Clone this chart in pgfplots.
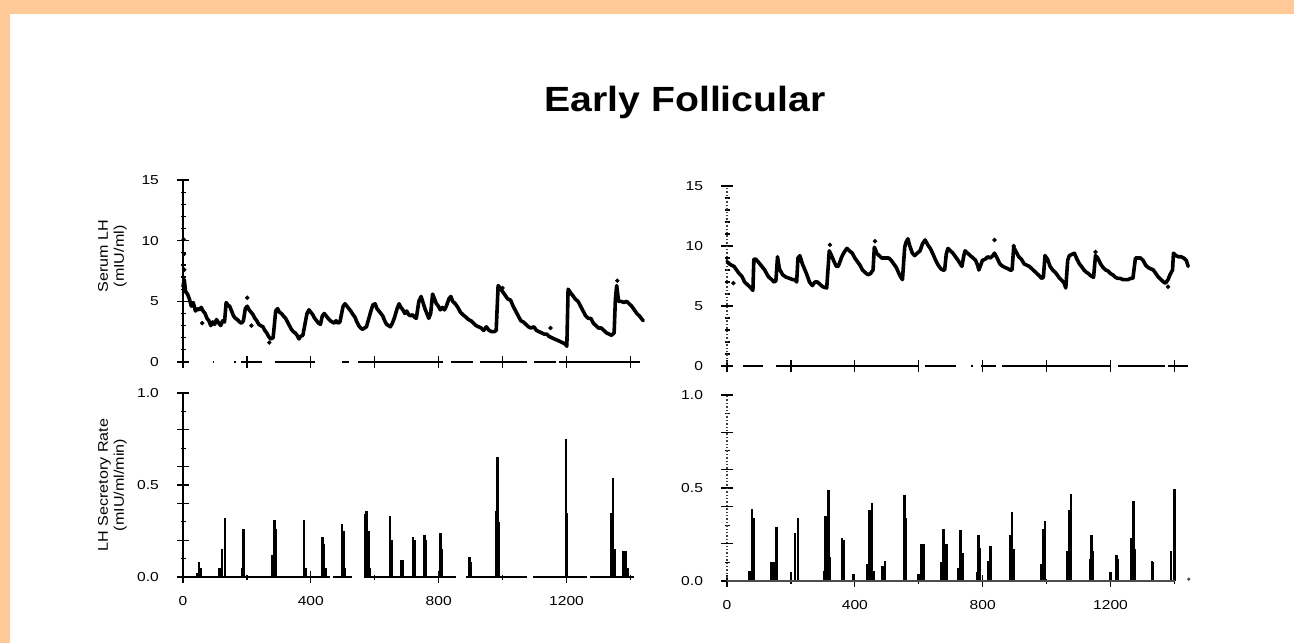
\documentclass[border=0pt]{standalone}
\usepackage{fontspec}
\setmainfont{Liberation Sans}
\usepackage{pgfplots}
\pgfplotsset{compat=1.18}
\definecolor{framecol}{RGB}{255,202,152}
\pgfplotsset{
  panel/.style={
    scale only axis, width=230.9pt,
    xmin=0, xmax=1445, ymin=0,
    enlargelimits=false, clip=false,
    axis x line*=bottom, axis y line*=left,
    x axis line style={draw=none},
    y axis line style={-, line width=0.6pt},
    tick align=center,
    major tick length=6pt, minor tick length=2.5pt,
    every tick/.append style={black, line width=0.6pt},
    /pgf/number format/assume math mode=true,
    /pgf/number format/set thousands separator={},
    ticklabel style={font=\fontsize{6.5}{7}\selectfont, xscale=1.2},
    yticklabel style={xshift=-4pt},
    xticklabel style={yshift=-3pt},
    every axis y label/.style={rotate=90, anchor=center, align=center,
      font=\fontsize{7}{8}\selectfont},
  },
  toppanel/.style={panel, ymax=15, ytick={0,5,10,15}, minor y tick num=4,
    xtick={0,200,...,1400}, xticklabels={}},
  botpanel/.style={panel, ymax=1, ytick={0,0.5,1}, yticklabels={0.0,0.5,1.0},
    extra y ticks={0.2,0.4,0.6,0.8}, extra y tick labels={},
    minor ytick={0.1,0.3,0.7,0.9},
    xtick={0,400,800,1200}, xticklabels={0,400,800,1200}, minor xtick={200,600,1000,1400}},
  serum/.style={black, line width=1.8pt, line join=round, line cap=round},
  base/.style={black, line width=0.6pt, unbounded coords=jump},
  pulse/.style={ycomb, black, line width=1.3pt},
}
\begin{document}
\begin{tikzpicture}
\useasboundingbox (0,0) rectangle (647pt,321.5pt);
\fill[framecol] (0,0) rectangle (647pt,321.5pt);
\fill[white] (5pt,0) rectangle (647pt,314.5pt);
\node[font=\bfseries\fontsize{17.5}{20}\selectfont, xscale=1.12, anchor=base] at (342.5pt,265.5pt) {Early Follicular};

% ---------- top left: serum LH ----------
\begin{axis}[toppanel, height=91pt, at={(91.5pt,140.5pt)}, anchor=south west,
  ylabel={\scalebox{1.15}[1]{Serum LH}\\\scalebox{1.15}[1]{(mIU/ml)}},
  ylabel style={at={(axis description cs:-0.153,0.58)}}]
\addplot[serum] coordinates {
(0,6.2)(4,6.8)(8,5.8)(14,5.6)(20,5.2)(26,4.6)(32,4.9)(39,4.2)(45,4.4)(51,4.3)(57,4.5)(63,4.2)(69,4.0)(75,3.6)(81,3.4)(87,3.0)(93,3.3)(99,3.1)(105,3.5)(112,3.2)(118,3.0)(124,3.4)(130,3.3)
(135,4.9)(140,4.7)(146,4.6)(152,4.2)(158,3.8)(164,3.6)(170,3.5)(177,3.3)(183,3.2)(189,3.4)
(195,4.4)(201,4.6)(207,4.3)(213,4.1)(219,3.9)(225,3.6)(231,3.4)(237,3.1)(243,3.0)(250,2.9)(256,2.6)(262,2.4)(268,2.1)(274,1.9)(282,2.0)
(290,4.2)(296,4.4)(302,4.1)(308,4.0)(314,3.8)(321,3.6)(327,3.3)(333,3.0)(339,2.7)(345,2.5)(351,2.4)(357,2.2)(363,1.9)(367,2.1)(375,2.2)
(388,4.0)(394,4.3)(400,4.1)(406,3.9)(412,3.6)(418,3.4)(424,3.2)(430,3.1)(436,3.8)(442,4.0)(448,3.8)(454,3.6)(461,3.4)(467,3.3)(473,3.2)(479,3.4)(485,3.2)(491,3.3)
(501,4.6)(507,4.8)(513,4.6)(519,4.4)(525,4.2)(532,3.9)(538,3.7)(544,3.3)(550,3.0)(556,2.8)(562,2.7)(568,2.8)(574,2.9)
(588,4.2)(594,4.7)(601,4.8)(607,4.4)(613,4.2)(619,4.0)(625,3.8)(631,3.4)(637,3.1)(643,3.0)(649,2.9)(655,3.2)(661,3.6)
(670,4.4)(676,4.8)(682,4.5)(688,4.3)(694,4.0)(700,4.2)(706,3.9)(712,3.8)(718,3.9)(724,3.7)(730,3.6)
(738,5.0)(745,5.4)(751,4.9)(757,4.4)(763,4.0)(769,3.6)(775,4.0)(781,5.6)(787,5.2)(793,4.8)(799,4.6)(805,4.3)(812,4.5)(818,4.3)(824,4.6)
(832,5.2)(838,5.4)(844,5.0)(852,4.8)(860,4.5)(868,4.1)(876,3.9)(885,3.7)(893,3.5)(901,3.4)(909,3.2)(917,3.0)(925,2.9)(933,2.8)(941,2.6)(949,2.9)(958,2.6)(966,2.5)(974,2.5)(980,2.6)
(986,6.3)(992,6.1)(1000,5.8)(1008,5.5)(1016,5.2)(1025,5.1)(1033,4.6)(1041,4.2)(1049,3.8)(1057,3.4)(1065,3.3)(1073,3.1)(1081,2.9)(1089,2.8)(1098,2.9)(1106,2.6)(1114,2.5)(1122,2.4)(1130,2.3)(1138,2.3)(1146,2.1)(1154,2.0)(1162,1.9)(1171,1.8)(1179,1.7)(1187,1.6)(1195,1.5)(1201,1.3)
(1205,6.0)(1213,5.7)(1219,5.5)(1227,5.2)(1236,5.0)(1244,4.6)(1252,4.2)(1260,3.8)(1268,3.6)(1276,3.6)(1284,3.2)(1292,3.0)(1300,2.8)(1309,2.8)(1317,2.6)(1325,2.4)(1333,2.3)(1341,2.2)(1349,2.4)
(1353,5.2)(1357,6.3)(1363,5.0)(1371,5.0)(1380,4.9)(1388,5.0)(1396,4.8)(1404,4.6)(1412,4.3)(1420,4.0)(1428,3.8)(1434,3.6)(1440,3.4)
};
\addplot[only marks, mark=*, mark size=0.9pt, black] coordinates {
(2,10.1)(3,8.9)(4,7.6)(60,3.2)(201,5.3)(214,3.0)(270,1.6)(1359,6.7)(1000,6.1)(1150,2.8)
};
\addplot[base] coordinates {
(0,0)(17,0)(17,nan)(93,0)(97,0)(97,nan)(161,0)(165,0)(165,nan)(181,0)(248,0)(248,nan)(287,0)(412,0)(412,nan)
(496,0)(518,0)(518,nan)(547,0)(812,0)(812,nan)(840,0)(907,0)(907,nan)(930,0)(1076,0)(1076,nan)
(1099,0)(1167,0)(1167,nan)(1178,0)(1431,0)
};
\end{axis}

% ---------- bottom left: secretory rate ----------
\begin{axis}[botpanel, height=92pt, at={(91.5pt,33pt)}, anchor=south west,
  ylabel={\scalebox{1.15}[1]{LH Secretory Rate}\\\scalebox{1.15}[1]{(mIU/ml/min)}},
  ylabel style={at={(axis description cs:-0.153,0.5)}}]
\addplot[pulse] coordinates {
(45,0.02)(50,0.08)(55,0.05)
(115,0.05)(122,0.15)(132,0.32)
(186,0.05)(190,0.26)
(280,0.12)(287,0.31)(291,0.26)
(378,0.31)(383,0.05)
(437,0.22)(441,0.18)(445,0.05)
(498,0.29)(502,0.25)(506,0.05)
(570,0.34)(575,0.36)(580,0.25)(585,0.05)
(648,0.33)(652,0.2)
(682,0.09)(686,0.09)
(720,0.22)(724,0.2)
(756,0.23)(760,0.2)
(805,0.24)(809,0.15)
(897,0.11)(900,0.08)
(980,0.36)(984,0.65)(988,0.3)
(1198,0.75)(1202,0.35)
(1340,0.35)(1346,0.54)(1350,0.15)
(1378,0.14)(1385,0.14)(1390,0.05)
};
\addplot[base] coordinates {
(0,0)(460,0)(460,nan)(470,0)(530,0)(530,nan)(565,0)(855,0)(855,nan)(885,0)(1075,0)(1075,nan)
(1095,0)(1265,0)(1265,nan)(1275,0)(1410,0)
};
\end{axis}

% ---------- top right: serum LH ----------
\begin{axis}[toppanel, height=90pt, at={(363.5pt,138.5pt)}, anchor=south west,
  y axis line style={-, line width=0.7pt, black!75, densely dotted}]
\addplot[serum] coordinates {
(0,8.7)(8,8.5)(14,8.4)(22,8.3)(30,8.0)(38,7.7)(46,7.5)(55,7.0)(63,6.8)(71,6.6)(78,6.4)(81,6.3)
(84,8.9)(90,8.9)(100,8.6)(109,8.3)(118,8.0)(126,7.6)(131,7.4)(140,7.2)(147,7.0)(153,7.1)
(158,9.1)(164,8.1)(174,7.6)(185,7.4)(196,7.3)(205,7.2)(212,7.2)(218,7.0)
(222,9.0)(228,9.2)(236,8.5)(244,8.0)(250,7.6)(258,7.0)(267,6.7)(275,7.0)(283,7.0)(291,6.8)(300,6.6)(312,6.5)
(320,9.6)(327,9.2)(335,8.7)(342,8.3)(348,8.3)(355,8.8)(359,9.1)(367,9.5)(375,9.8)(383,9.6)(392,9.4)(400,9.0)(408,8.7)(416,8.4)(424,8.0)(432,7.8)(441,7.6)(449,7.7)(457,8.0)
(461,9.9)(466,9.6)(468,9.4)(476,9.2)(484,9.0)(490,9.0)(498,9.0)(506,9.0)(514,8.8)(522,8.5)(530,8.2)(538,7.7)(544,7.4)(549,7.2)
(556,9.9)(560,10.3)(566,10.6)(572,10.0)(580,9.4)(587,9.2)(595,9.4)(604,9.6)(612,10.2)(620,10.5)(628,10.1)(636,9.8)(645,9.3)(653,8.8)(661,8.4)(669,8.1)(676,8.0)(681,8.0)
(686,9.3)(691,9.8)(699,9.6)(707,9.4)(715,9.1)(723,8.8)(730,8.5)(735,8.3)
(741,9.2)(745,9.6)(753,9.4)(761,9.2)(770,9.0)(778,8.8)(784,8.4)(788,8.0)(795,8.5)(799,8.8)(808,8.9)(816,9.1)(824,9.0)(832,9.2)(837,9.4)(845,9.0)(854,8.5)(863,8.3)(871,8.2)(879,8.1)(886,8.0)(892,8.0)
(897,9.9)(905,9.5)(913,9.1)(921,8.9)(930,8.5)(938,8.4)(946,8.3)(954,8.1)(962,7.9)(970,7.7)(978,7.5)(984,7.3)(990,7.4)
(995,9.2)(1003,8.9)(1011,8.3)(1019,8.0)(1027,7.8)(1033,7.6)(1041,7.3)(1049,7.1)(1055,6.9)(1060,6.5)
(1066,8.8)(1071,9.2)(1079,9.3)(1087,9.4)(1095,8.9)(1103,8.5)(1109,8.3)(1117,8.0)(1125,7.8)(1131,7.7)(1139,7.5)(1147,7.4)
(1153,9.2)(1160,9.0)(1169,8.5)(1177,8.2)(1185,8.0)(1193,7.9)(1200,7.7)(1207,7.6)(1215,7.4)(1223,7.3)(1231,7.3)(1239,7.2)(1247,7.2)(1255,7.2)(1263,7.3)(1270,7.3)
(1278,9.0)(1286,9.0)(1294,9.0)(1302,8.8)(1310,8.4)(1318,8.2)(1326,8.1)(1334,8.0)(1342,7.7)(1350,7.4)(1358,7.2)(1366,7.0)(1372,6.9)(1380,7.2)(1386,7.6)(1394,8.0)
(1397,9.4)(1405,9.2)(1413,9.1)(1421,9.1)(1429,9.0)(1437,8.8)(1443,8.3)
};
\addplot[only marks, mark=*, mark size=0.9pt, black] coordinates {
(20,6.9)(322,10.1)(463,10.4)(837,10.5)(897,10.0)(1153,9.5)(1380,6.6)
};
\addplot[base] coordinates {
(0,0)(6,0)(6,nan)(49,0)(114,0)(114,nan)(153,0)(598,0)(598,nan)(620,0)(717,0)(717,nan)
(765,0)(769,0)(769,nan)(795,0)(843,0)(843,nan)(860,0)(1197,0)(1197,nan)(1224,0)(1370,0)(1370,nan)(1381,0)(1441,0)
};
\end{axis}

% ---------- bottom right: secretory rate ----------
\begin{axis}[botpanel, height=93pt, at={(363.5pt,31pt)}, anchor=south west,
  y axis line style={-, line width=0.7pt, black!75, densely dotted}]
\addplot[pulse] coordinates {
(70,0.055)(78,0.385)(83,0.34)
(140,0.1)(146,0.1)(155,0.29)
(200,0.05)(213,0.26)(222,0.34)
(303,0.055)(308,0.35)(317,0.49)(322,0.13)
(360,0.23)(364,0.22)
(395,0.04)
(438,0.09)(446,0.38)(454,0.42)(459,0.055)
(486,0.08)(494,0.11)
(555,0.46)(559,0.34)
(600,0.04)(609,0.2)(614,0.2)
(670,0.1)(678,0.28)(686,0.2)
(724,0.07)(730,0.275)(736,0.15)
(784,0.05)(787,0.25)(792,0.18)
(819,0.11)(825,0.19)
(886,0.25)(892,0.37)(897,0.17)
(984,0.09)(989,0.28)(995,0.32)
(1065,0.16)(1070,0.38)(1076,0.47)
(1138,0.12)(1141,0.25)(1144,0.16)
(1200,0.05)(1218,0.14)(1222,0.12)
(1265,0.23)(1272,0.43)(1277,0.17)
(1330,0.11)(1333,0.1)
(1389,0.16)(1400,0.495)
};
\addplot[base, black!70] coordinates {(0,0)(1402,0)};
\addplot[only marks, mark=*, mark size=0.6pt, black!70] coordinates {(1445,0.01)};
\end{axis}
\end{tikzpicture}
\end{document}
